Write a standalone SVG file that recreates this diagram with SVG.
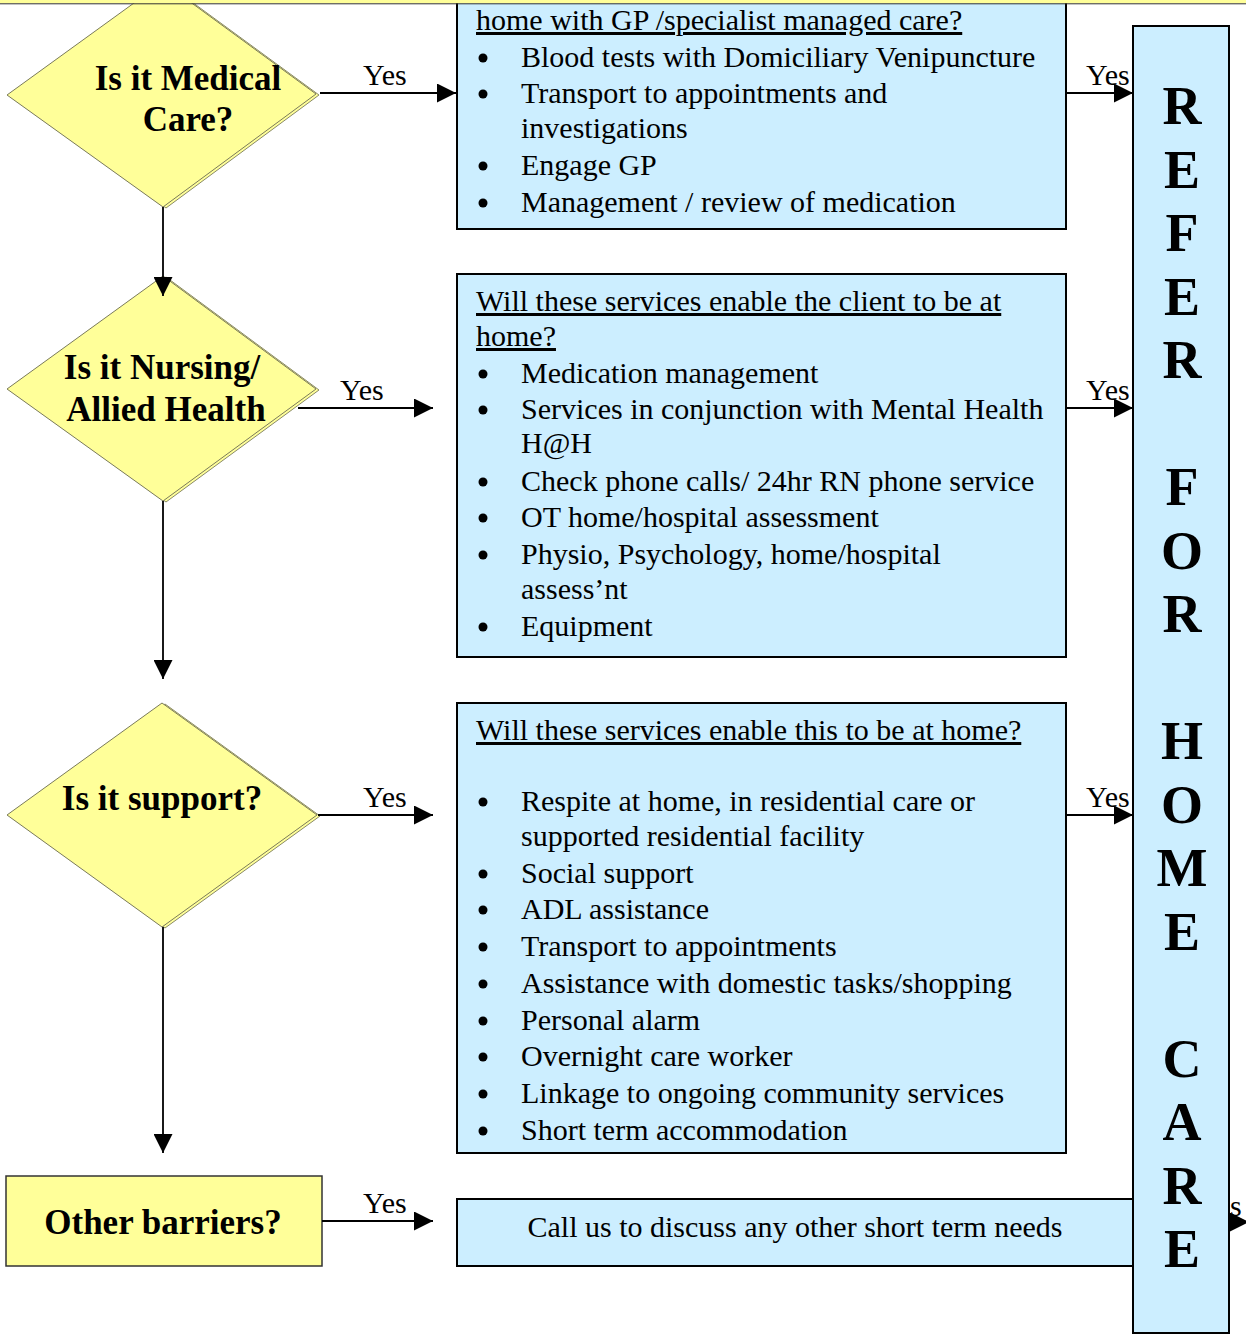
<svg xmlns="http://www.w3.org/2000/svg" width="1246" height="1334" viewBox="0 0 1246 1334">
<style>
.d{fill:#ffff99;stroke:#7a7a5a;stroke-width:1}
.ds{fill:#ffff99;stroke:#8a8a66;stroke-width:1}
.r{fill:#ffff99;stroke:#333;stroke-width:1.5}
.b{fill:#cceeff;stroke:#000;stroke-width:2}
.t{font-family:"Liberation Serif","Times New Roman",serif;font-size:30px;fill:#000}
.q{font-family:"Liberation Serif","Times New Roman",serif;font-size:35px;font-weight:bold;text-anchor:middle;fill:#000}
.u{text-decoration:underline}
.c{stroke:#000;stroke-width:1.8;fill:none}
.big{font-family:"Liberation Serif","Times New Roman",serif;font-size:54px;font-weight:bold;text-anchor:middle;fill:#000}
.bl{fill:#000}
</style>
<defs>
<marker id="ah" markerUnits="userSpaceOnUse" markerWidth="19" markerHeight="19" refX="19" refY="9.5" orient="auto"><path d="M0,0L19,9.5L0,19z" fill="#000"/></marker>
</defs>

<g id="q-medical">
<polygon class="ds" points="166,-17 319,95 166,208 10,96"/>
<polygon class="d" points="163,-18 316,94 163,207 7,95"/>
<text class="q" x="188" y="90">Is it Medical</text>
<text class="q" x="188" y="131">Care?</text>
</g>

<g id="q-nursing">
<polygon class="ds" points="166,277 319,390 166,502 10,390"/>
<polygon class="d" points="163,276 316,389 163,501 7,389"/>
<text class="q" x="162" y="379">Is it Nursing/</text>
<text class="q" x="166" y="421">Allied Health</text>
</g>

<g id="q-support">
<polygon class="ds" points="165,704 320,816 165,928 10,816"/>
<polygon class="d" points="162,703 317,815 162,927 7,815"/>
<text class="q" x="162" y="810">Is it support?</text>
</g>

<g id="q-other">
<rect class="r" x="6" y="1176" width="316" height="90"/>
<text class="q" x="163" y="1234">Other barriers?</text>
</g>

<g id="box-medical">
<rect class="b" x="457" y="-10" width="609" height="239"/>
<text class="t u" x="476" y="30">home with GP /specialist managed care?</text>
<circle class="bl" cx="483" cy="58" r="4.5"/><text class="t" x="521" y="67">Blood tests with Domiciliary Venipuncture</text>
<circle class="bl" cx="483" cy="94" r="4.5"/><text class="t" x="521" y="103">Transport to appointments and</text>
<text class="t" x="521" y="138">investigations</text>
<circle class="bl" cx="483" cy="166" r="4.5"/><text class="t" x="521" y="175">Engage GP</text>
<circle class="bl" cx="483" cy="203" r="4.5"/><text class="t" x="521" y="212">Management / review of medication</text>
</g>

<g id="box-nursing">
<rect class="b" x="457" y="274" width="609" height="383"/>
<text class="t u" x="476" y="311">Will these services enable the client to be at</text>
<text class="t u" x="476" y="346">home?</text>
<circle class="bl" cx="483" cy="374" r="4.5"/><text class="t" x="521" y="383">Medication management</text>
<circle class="bl" cx="483" cy="410" r="4.5"/><text class="t" x="521" y="419">Services in conjunction with Mental Health</text>
<text class="t" x="521" y="453">H@H</text>
<circle class="bl" cx="483" cy="482" r="4.5"/><text class="t" x="521" y="491">Check phone calls/ 24hr RN phone service</text>
<circle class="bl" cx="483" cy="518" r="4.5"/><text class="t" x="521" y="527">OT home/hospital assessment</text>
<circle class="bl" cx="483" cy="555" r="4.5"/><text class="t" x="521" y="564">Physio, Psychology, home/hospital</text>
<text class="t" x="521" y="599">assess’nt</text>
<circle class="bl" cx="483" cy="627" r="4.5"/><text class="t" x="521" y="636">Equipment</text>
</g>

<g id="box-support">
<rect class="b" x="457" y="703" width="609" height="450"/>
<text class="t u" x="476" y="740">Will these services enable this to be at home?</text>
<circle class="bl" cx="483" cy="802" r="4.5"/><text class="t" x="521" y="811">Respite at home, in residential care or</text>
<text class="t" x="521" y="846">supported residential facility</text>
<circle class="bl" cx="483" cy="874" r="4.5"/><text class="t" x="521" y="883">Social support</text>
<circle class="bl" cx="483" cy="910" r="4.5"/><text class="t" x="521" y="919">ADL assistance</text>
<circle class="bl" cx="483" cy="947" r="4.5"/><text class="t" x="521" y="956">Transport to appointments</text>
<circle class="bl" cx="483" cy="984" r="4.5"/><text class="t" x="521" y="993">Assistance with domestic tasks/shopping</text>
<circle class="bl" cx="483" cy="1021" r="4.5"/><text class="t" x="521" y="1030">Personal alarm</text>
<circle class="bl" cx="483" cy="1057" r="4.5"/><text class="t" x="521" y="1066">Overnight care worker</text>
<circle class="bl" cx="483" cy="1094" r="4.5"/><text class="t" x="521" y="1103">Linkage to ongoing community services</text>
<circle class="bl" cx="483" cy="1131" r="4.5"/><text class="t" x="521" y="1140">Short term accommodation</text>
</g>

<g id="box-other">
<rect class="b" x="457" y="1199" width="676" height="67"/>
<text class="t" x="795" y="1237" text-anchor="middle">Call us to discuss any other short term needs</text>
</g>

<g id="connectors">
<path class="c" d="M320,93H456" marker-end="url(#ah)"/>
<text class="t" x="363" y="85">Yes</text>
<path class="c" d="M163,207V296" marker-end="url(#ah)"/>
<path class="c" d="M298,408H433" marker-end="url(#ah)"/>
<text class="t" x="340" y="400">Yes</text>
<path class="c" d="M163,501V679" marker-end="url(#ah)"/>
<path class="c" d="M318,815H433" marker-end="url(#ah)"/>
<text class="t" x="363" y="807">Yes</text>
<path class="c" d="M163,927V1153" marker-end="url(#ah)"/>
<path class="c" d="M322,1221H433" marker-end="url(#ah)"/>
<text class="t" x="363" y="1213">Yes</text>
<path class="c" d="M1066,93H1133" marker-end="url(#ah)"/>
<text class="t" x="1086" y="85">Yes</text>
<path class="c" d="M1066,408H1133" marker-end="url(#ah)"/>
<text class="t" x="1086" y="400">Yes</text>
<path class="c" d="M1066,815H1133" marker-end="url(#ah)"/>
<text class="t" x="1086" y="807">Yes</text>
<path class="c" d="M1133,1222H1249" marker-end="url(#ah)"/>
<text class="t" x="1198" y="1216">Yes</text>
</g>

<g id="refer-home-care">
<rect class="b" x="1133" y="26" width="96" height="1307"/>
<text class="big" x="1182" y="124">R</text>
<text class="big" x="1182" y="187.5">E</text>
<text class="big" x="1182" y="251">F</text>
<text class="big" x="1182" y="314.5">E</text>
<text class="big" x="1182" y="378">R</text>
<text class="big" x="1182" y="505">F</text>
<text class="big" x="1182" y="568.5">O</text>
<text class="big" x="1182" y="632">R</text>
<text class="big" x="1182" y="759">H</text>
<text class="big" x="1182" y="822.5">O</text>
<text class="big" x="1182" y="886">M</text>
<text class="big" x="1182" y="949.5">E</text>
<text class="big" x="1182" y="1076.5">C</text>
<text class="big" x="1182" y="1140">A</text>
<text class="big" x="1182" y="1203.5">R</text>
<text class="big" x="1182" y="1267">E</text>
</g>

<g id="top-edge">
<rect x="0" y="0" width="1246" height="3.3" fill="#ffff99"/>
<line x1="0" y1="3.8" x2="1246" y2="3.8" stroke="#333" stroke-width="1"/>
</g>
</svg>
